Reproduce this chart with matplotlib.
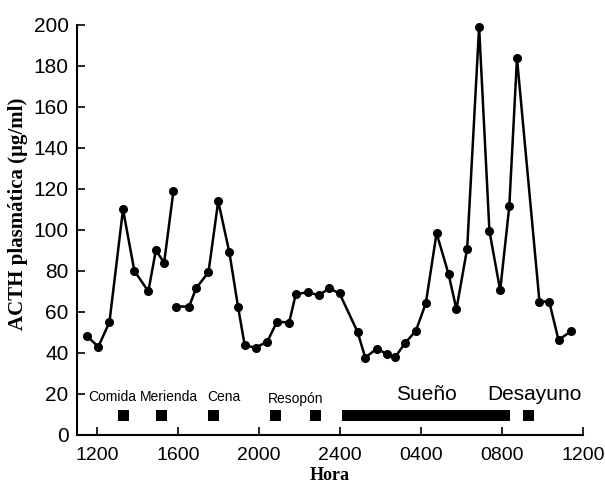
import matplotlib
matplotlib.use("Agg")
import matplotlib.pyplot as plt

# horas contadas desde las 12:00 del primer día
tramo1_h = [-0.48, 0.06, 0.61, 1.28, 1.84, 2.53, 2.9, 3.31, 3.77]
tramo1_acth = [48, 43, 55, 110, 80, 70, 90, 84, 119]

tramo2_h = [3.89, 4.54, 4.89, 5.5, 5.98, 6.53, 6.96, 7.29, 7.83, 8.4, 8.88,
            9.48, 9.81, 10.39, 10.95, 11.46, 11.97, 12.86, 13.24, 13.81, 14.29,
            14.72, 15.2, 15.74, 16.23, 16.76, 17.35, 17.74, 18.27, 18.86, 19.37,
            19.9, 20.35, 20.73, 21.84, 22.32, 22.78, 23.42]
tramo2_acth = [62.6, 62.6, 71.5, 79.4, 114, 89, 62.4, 43.6, 42.6, 45.4, 55.2,
               54.8, 68.6, 69.6, 68.1, 71.5, 69, 50.2, 37.7, 42.1, 39.5,
               38, 44.7, 50.8, 64.2, 98.4, 78.5, 61.3, 90.9, 198.9, 99.4,
               70.5, 111.4, 183.7, 65, 65, 46.3, 50.7]

comidas_h = [1.31, 3.19, 5.75, 8.79, 10.77, 21.3]
sueno_inicio, sueno_fin = 12.1, 20.4

ticks_h = [0, 4, 8, 12, 16, 20, 24]
ticks_lab = ['1200', '1600', '2000', '2400', '0400', '0800', '1200']
yticks = [0, 20, 40, 60, 80, 100, 120, 140, 160, 180, 200]

plt.rcParams['font.family'] = ['Liberation Sans', 'DejaVu Sans']

fig = plt.figure(figsize=(6.05, 4.87), dpi=100)
ax = fig.add_axes([0.127, 0.107, 0.837, 0.842])

for hh, vv in [(tramo1_h, tramo1_acth), (tramo2_h, tramo2_acth)]:
    ax.plot(hh, vv, color='black', lw=1.8, marker='o', ms=5.5,
            clip_on=False, zorder=3)

# comidas y sueño
ancho = 0.55
ax.bar(comidas_h, 5.4, width=ancho, bottom=6.8, color='black')
ax.bar(sueno_inicio, 5.4, width=sueno_fin - sueno_inicio, bottom=6.8,
       align='edge', color='black')

ax.text(-0.44, 18.5, 'Comida', fontsize=10, va='center')
ax.text(2.12, 18.5, 'Merienda', fontsize=10, va='center')
ax.text(5.43, 18.5, 'Cena', fontsize=10, va='center')
ax.text(8.44, 17.5, 'Resopón', fontsize=10, va='center')
ax.text(14.75, 19.5, 'Sueño', fontsize=15, va='center')
ax.text(19.26, 19.5, 'Desayuno', fontsize=15, va='center')

ax.set_xlim(-1, 24)
ax.set_ylim(0, 200)
ax.set_xticks(ticks_h)
ax.set_xticklabels(ticks_lab)
ax.set_yticks(yticks)
ax.tick_params(axis='both', direction='in', length=6, width=1.2)
ax.tick_params(axis='x', labelsize=14, pad=9)
ax.tick_params(axis='y', labelsize=15, pad=6)

for s in ['top', 'right']:
    ax.spines[s].set_visible(False)
for s in ['left', 'bottom']:
    ax.spines[s].set_linewidth(1.5)

ax.set_ylabel('ACTH plasmática (µg/ml)', fontsize=15, fontweight='bold',
              family='Liberation Serif')
ax.yaxis.set_label_coords(-0.097, 0.54)
ax.set_xlabel('Hora', fontsize=13, fontweight='bold', family='Liberation Serif',
              labelpad=2)

fig.savefig('out.png', dpi=100)
